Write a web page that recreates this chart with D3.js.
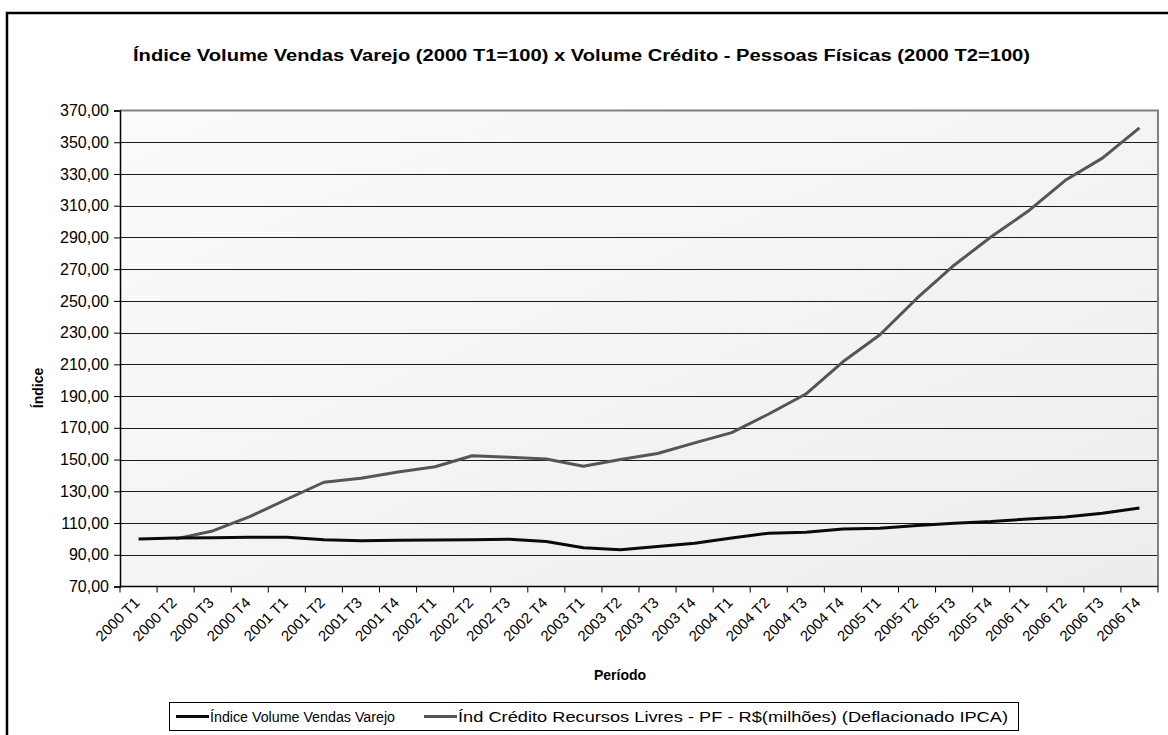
<!DOCTYPE html>
<html>
<head>
<meta charset="utf-8">
<script src="https://cdn.jsdelivr.net/npm/d3@7"></script>
<style>
  body { margin: 0; background: #fff; }
  text { font-family: Arial, "Liberation Sans", sans-serif; }
</style>
</head>
<body>
<script>
// data
var years = [2000, 2001, 2002, 2003, 2004, 2005, 2006];
var quarters = ['T1', 'T2', 'T3', 'T4'];
var periods = [];
years.forEach(function(y){ quarters.forEach(function(q){ periods.push(y + ' ' + q); }); });

var vendas = [100, 100.5, 100.8, 101, 101, 99.4, 98.8, 99.1, 99.3, 99.4, 99.8, 98.3,
              94.4, 93.1, 95.2, 97.2, 100.5, 103.6, 104.2, 106.2, 106.7, 108.4, 109.8, 110.9,
              112.6, 113.8, 116.1, 119.5];
var credito = [null, 100, 105, 114, 125, 135.7, 138.2, 142.1, 145.5, 152.4, 151.5, 150.4,
               145.8, 150, 153.8, 160.5, 167, 178.7, 191.3, 211.6, 228.7, 251.7, 272.5, 290.4,
               306.6, 326, 340, 359];
var yTicks = d3.range(70, 371, 20);

var seriesNames = ['Índice Volume Vendas Varejo',
                   'Índ Crédito Recursos Livres - PF - R$(milhões) (Deflacionado IPCA)'];
var seriesColors = ['#0a0a0a', '#555555'];

var W = 1168, H = 735;
var left = 120, right = 1158, top_ = 110.5, bottom = 586.5;

var svg = d3.select('body').append('svg')
    .attr('width', W).attr('height', H);

// outer chart frame
svg.append('rect')
    .attr('x', 7).attr('y', 13)
    .attr('width', 1200).attr('height', 800)
    .attr('fill', '#fff').attr('stroke', '#000').attr('stroke-width', 2.5);

// plot background gradient
var grad = svg.append('defs').append('linearGradient')
    .attr('id', 'bg').attr('x1', '0%').attr('y1', '0%').attr('x2', '100%').attr('y2', '100%');
grad.append('stop').attr('offset', '0%').attr('stop-color', '#fbfbfb');
grad.append('stop').attr('offset', '100%').attr('stop-color', '#ededed');

svg.append('rect')
    .attr('x', left).attr('y', top_)
    .attr('width', right - left).attr('height', bottom - top_)
    .attr('fill', 'url(#bg)');

var xScale = d3.scaleBand().domain(periods).range([left, right]);
var yScale = d3.scaleLinear().domain([70, 370]).range([bottom, top_]);

var locale = d3.formatLocale({decimal: ',', thousands: '.', grouping: [3], currency: ['R$', '']});
var fmt = locale.format('.2f');

// gridlines
svg.append('g').selectAll('line')
    .data(yTicks.filter(function(d){ return d > 70 && d < 370; }))
    .enter().append('line')
    .attr('x1', left).attr('x2', right)
    .attr('y1', function(d){ return Math.round(yScale(d)) + 0.5; })
    .attr('y2', function(d){ return Math.round(yScale(d)) + 0.5; })
    .attr('stroke', '#1a1a1a').attr('stroke-width', 1);

// top and right border of plot
svg.append('path')
    .attr('d', 'M' + left + ',' + top_ + 'H' + right + 'V' + bottom)
    .attr('fill', 'none').attr('stroke', '#808080').attr('stroke-width', 2);

// y axis
var yAxis = d3.axisLeft(yScale).tickValues(yTicks).tickFormat(fmt).tickSize(6).tickPadding(5);
var gy = svg.append('g').attr('transform', 'translate(' + left + ',0)').call(yAxis);
gy.select('.domain').attr('stroke', '#000').attr('stroke-width', 1.5);
gy.selectAll('.tick line').attr('stroke', '#000');
gy.selectAll('text').attr('font-size', '16px').attr('fill', '#000')
    .style('font-family', 'Arial, "Liberation Sans", sans-serif');

// x axis: ticks between categories
var gx = svg.append('g').attr('transform', 'translate(0,' + bottom + ')');
gx.append('line').attr('x1', left).attr('x2', right).attr('stroke', '#000').attr('stroke-width', 1.5);
gx.selectAll('.xt')
    .data(d3.range(periods.length + 1))
    .enter().append('line')
    .attr('class', 'xt')
    .attr('x1', function(i){ return left + i * xScale.step(); })
    .attr('x2', function(i){ return left + i * xScale.step(); })
    .attr('y1', 0).attr('y2', 6)
    .attr('stroke', '#000');
gx.selectAll('.xl')
    .data(periods)
    .enter().append('text')
    .attr('class', 'xl')
    .attr('transform', function(d){
        var cx = xScale(d) + xScale.bandwidth() / 2;
        return 'translate(' + (cx + 2) + ',17) rotate(-45)';
    })
    .attr('text-anchor', 'end')
    .attr('font-size', '15px')
    .text(function(d){ return d; });

// lines
var line = d3.line()
    .defined(function(d){ return d != null; })
    .x(function(d, i){ return xScale(periods[i]) + xScale.bandwidth() / 2; })
    .y(function(d){ return yScale(d); });

svg.append('path').datum(credito)
    .attr('d', line)
    .attr('fill', 'none').attr('stroke', seriesColors[1]).attr('stroke-width', 3)
    .attr('stroke-linejoin', 'round');
svg.append('path').datum(vendas)
    .attr('d', line)
    .attr('fill', 'none').attr('stroke', seriesColors[0]).attr('stroke-width', 3)
    .attr('stroke-linejoin', 'round');

// titles
svg.append('text')
    .attr('x', 133).attr('y', 61)
    .attr('font-size', '16px').attr('font-weight', 'bold')
    .attr('textLength', 897).attr('lengthAdjust', 'spacingAndGlyphs')
    .text('Índice Volume Vendas Varejo (2000 T1=100) x Volume Crédito - Pessoas Físicas (2000 T2=100)');

svg.append('text')
    .attr('transform', 'translate(43,388) rotate(-90)')
    .attr('text-anchor', 'middle')
    .attr('font-size', '14px').attr('font-weight', 'bold')
    .text('Índice');

svg.append('text')
    .attr('x', 620).attr('y', 680)
    .attr('text-anchor', 'middle')
    .attr('font-size', '14px').attr('font-weight', 'bold')
    .text('Período');

// legend
var legend = svg.append('g');
legend.append('rect')
    .attr('x', 169.5).attr('y', 702.5).attr('width', 849).attr('height', 28)
    .attr('fill', '#fff').attr('stroke', '#000').attr('stroke-width', 1);
var legendX = [176, 424];
var legendLen = [185, 550];
seriesNames.forEach(function(name, i){
    legend.append('line')
        .attr('x1', legendX[i]).attr('x2', legendX[i] + 33)
        .attr('y1', 716.5).attr('y2', 716.5)
        .attr('stroke', seriesColors[i]).attr('stroke-width', 3);
    legend.append('text')
        .attr('x', legendX[i] + 34).attr('y', 722)
        .attr('font-size', '14px')
        .attr('textLength', legendLen[i]).attr('lengthAdjust', 'spacingAndGlyphs')
        .text(name);
});
</script>
</body>
</html>
